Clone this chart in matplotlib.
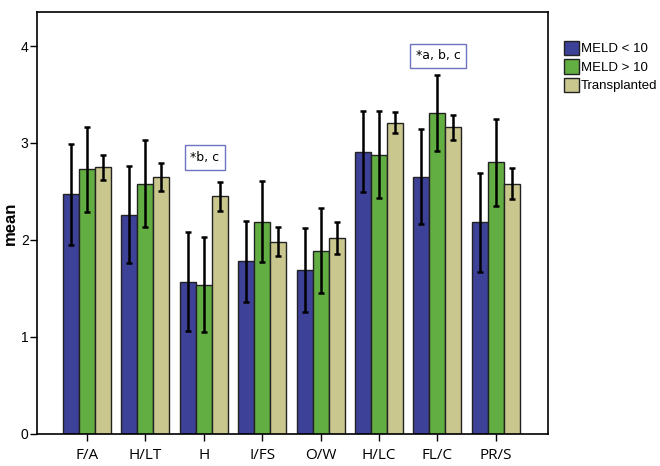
import matplotlib.pyplot as plt
import numpy as np

# categories and group values
categories = ['F/A', 'H/LT', 'H', 'I/FS', 'O/W', 'H/LC', 'FL/C', 'PR/S']
series = ['MELD < 10', 'MELD > 10', 'Transplanted']

meld_low = [2.47, 2.26, 1.57, 1.78, 1.69, 2.91, 2.65, 2.18]
meld_low_err = [0.52, 0.50, 0.51, 0.42, 0.43, 0.42, 0.49, 0.51]

meld_high = [2.73, 2.58, 1.54, 2.19, 1.89, 2.88, 3.31, 2.80]
meld_high_err = [0.44, 0.45, 0.49, 0.42, 0.44, 0.45, 0.39, 0.45]

transplanted = [2.75, 2.65, 2.45, 1.98, 2.02, 3.21, 3.16, 2.58]
transplanted_err = [0.13, 0.14, 0.15, 0.15, 0.16, 0.11, 0.13, 0.16]

colors = ['#3e4198', '#63ae42', '#c9c78e']

fig = plt.figure(figsize=(6.6, 4.66), dpi=100)
ax = fig.add_axes([0.056, 0.069, 0.774, 0.905])

x = np.arange(len(categories))
w = 0.274
values = [meld_low, meld_high, transplanted]
errors = [meld_low_err, meld_high_err, transplanted_err]
for i in range(3):
    ax.bar(x + (i - 1) * w, values[i], w, color=colors[i], edgecolor='#222222',
           linewidth=1.0, label=series[i], zorder=2)
    ax.errorbar(x + (i - 1) * w, values[i], yerr=errors[i], fmt='none',
                ecolor='black', elinewidth=1.8, capsize=2.5, capthick=1.8, zorder=3)

ax.set_xlim(-0.856, 7.89)
ax.set_ylim(0, 4.35)
ax.set_yticks([0, 1, 2, 3, 4])
ax.set_xticks(x)
ax.set_xticklabels(categories, fontsize=11, family='Open Sans')
ax.tick_params(axis='y', labelsize=10, length=5, width=1, pad=1)
ax.tick_params(axis='x', length=5, width=1, pad=5)
for lab in ax.get_yticklabels():
    lab.set_family('Liberation Sans')
ax.set_ylabel('mean', fontsize=12, fontweight='bold', family='Liberation Sans')
ax.yaxis.set_label_coords(-0.038, 0.5)
for s in ax.spines.values():
    s.set_linewidth(1.2)

# significance notes
box = dict(boxstyle='square,pad=0.45', facecolor='white', edgecolor='#6f73c0', linewidth=1)
ax.text(2.02, 2.85, '*b, c', fontsize=9, ha='center', va='center', bbox=box)
ax.text(6.01, 3.9, '*a, b, c', fontsize=9, ha='center', va='center', bbox=box)

ax.legend(loc='upper left', bbox_to_anchor=(1.022, 0.945), frameon=False,
          prop={'family': 'Liberation Sans', 'size': 9.5}, handlelength=1.1,
          handleheight=1.3, handletextpad=0.15, labelspacing=0.3, borderaxespad=0)

fig.savefig('out.png', dpi=100)
